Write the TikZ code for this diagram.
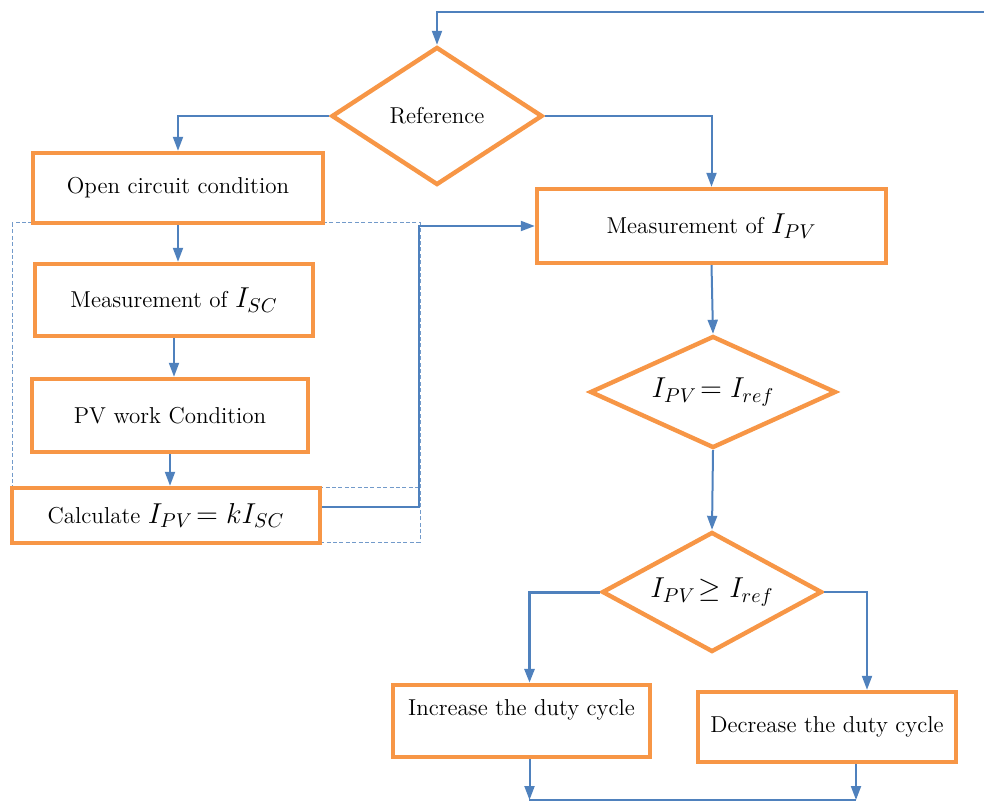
\documentclass[tikz,border=0pt]{standalone}
\usepackage{tikz}
\usepackage{amsmath,amssymb}
\usetikzlibrary{shapes.geometric,arrows.meta}
\definecolor{boxorange}{RGB}{247,150,70}
\definecolor{lineblue}{RGB}{79,129,189}
\newcommand{\flowmath}[1]{{\fontsize{14}{14}\selectfont$#1$}}
\tikzset{
	stepbox/.style={draw=boxorange,line width=2.2pt,fill=white,inner sep=2pt,font=\fontsize{11.5}{13}\selectfont},
	testdia/.style={diamond,aspect=2,draw=boxorange,line width=2.2pt,fill=white,inner sep=0pt,font=\fontsize{11.5}{13}\selectfont},
	flow/.style={draw=lineblue,line width=1pt,-{Triangle[width=5pt,length=7pt]}},
	groupline/.style={draw=lineblue!80,line width=0.5pt,dash pattern=on 2pt off 1.2pt},
}

\begin{document}
\begin{tikzpicture}[x=0.5pt,y=-0.5pt]
		\useasboundingbox (0,0) rectangle (984,802);
		\draw[groupline] (12,223) rectangle (420,542);
		\draw[groupline] (12,487) -- (420,487);
		\node[testdia,minimum width=105.5pt,minimum height=69pt] (ref) at (437,116) {Reference};
		\node[stepbox,minimum width=145pt,minimum height=35pt] (open) at (178,188) {Open circuit condition};
		\node[stepbox,minimum width=139pt,minimum height=36pt] (misc) at (174,300) {Measurement of \flowmath{I_{SC}}};
		\node[stepbox,minimum width=138pt,minimum height=36.5pt] (pvw) at (170,415.5) {PV work Condition};
		\node[stepbox,minimum width=154pt,minimum height=27.5pt] (calc) at (166,515.5) {Calculate \flowmath{I_{PV}\!= kI_{SC}}};
		\node[stepbox,minimum width=174.5pt,minimum height=37pt] (mipv) at (711.5,226) {Measurement of \flowmath{I_{PV}}};
		\node[testdia,minimum width=123pt,minimum height=56pt] (eq) at (713,392) {\flowmath{I_{PV}\!= I_{ref}}};
		\node[testdia,minimum width=110pt,minimum height=60pt] (geq) at (712,592) {\flowmath{I_{PV}\!\geq I_{ref}}};
		\node[stepbox,align=center,minimum width=128.5pt,minimum height=36pt] (inc) at (521.5,721) {Increase the duty cycle\\\mbox{}};
		\node[stepbox,minimum width=129pt,minimum height=35pt] (dec) at (827,727) {Decrease the duty cycle};
		\coordinate (back) at (984,12);
		\coordinate (bend) at (419,507);
		\coordinate (joinL) at (529,800);
		\coordinate (joinR) at (856,800);
		% loop back to the reference
		\draw[flow] (back) -| (ref.north);
		\draw[flow] (ref.west) -| (open.north);
		\draw[flow] (ref.east) -| (mipv.north);
		\foreach \a/\b in {open/misc,misc/pvw,pvw/calc} \draw[flow] (\a.south) -- (\a.south |- \b.north);
		\draw[flow] (calc.east |- bend) -- (bend) |- (mipv.west);
		\draw[flow] (mipv.south) -- (eq.north);
		\draw[flow] (eq.south) -- (geq.north);
		\draw[flow,line width=1.5pt] (geq.west) -| ([xshift=4pt]inc.north);
		\draw[flow] (geq.east) -| ([xshift=20pt]dec.north);
		\draw[flow] ([xshift=4pt]inc.south) -- ([xshift=4pt]inc.south |- joinL);
		\draw[flow] (joinR |- dec.south) -- (joinR);
		\draw[draw=lineblue,line width=1pt] (joinL) -- (joinR);
	\end{tikzpicture}
\end{document}
